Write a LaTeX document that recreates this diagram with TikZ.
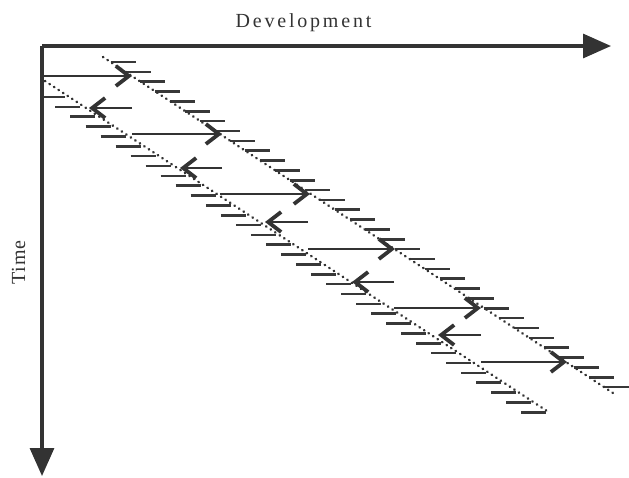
\documentclass[tikz,border=0pt]{standalone}
\usepackage{fontspec}
\setmainfont{Liberation Serif}
\usetikzlibrary{arrows.meta}
\definecolor{ink}{gray}{0.2}
\definecolor{tickc}{gray}{0.22}
\begin{document}
\begin{tikzpicture}[x=1pt,y=-1pt,
  axisline/.style={draw=ink, line width=3.2pt, -{Triangle[length=28pt,width=24pt]}},
  dotline/.style={draw=ink, line width=2.6pt, line cap=round, dash pattern=on 0.4pt off 5pt},
  tickline/.style={draw=tickc, line width=2.6pt},
  flow/.style={draw=ink, line width=2.8pt, -{Straight Barb[length=13pt,width=20pt,line width=3.8pt]}},
  lbl/.style={font=\fontsize{20}{24}\selectfont, text=ink, anchor=base, inner sep=0pt}]
\useasboundingbox (0,0) rectangle (629,477);

% staircase ticks on the right dotted line
\foreach \i in {0,...,33}{
  \pgfmathsetmacro{\yy}{62+9.85*\i}
  \pgfmathsetmacro{\xx}{103+1.518*(\yy-57)}
  \draw[tickline] (\xx,\yy) -- ++(25,0);
}
% staircase ticks on the left dotted line
\foreach \i in {0,...,32}{
  \pgfmathsetmacro{\yy}{97+9.85*\i}
  \pgfmathsetmacro{\xe}{41+1.526*(\yy-81)}
  \pgfmathsetmacro{\xs}{max(43,\xe-25)}
  \draw[tickline] (\xs,\yy) -- (\xe,\yy);
}

% dotted lines
\coordinate (rda) at (103,57);
\coordinate (rdb) at (613,393);
\coordinate (lda) at (45,81);
\coordinate (ldb) at (550,413);
\draw[dotline] (rda) -- (rdb);
\draw[dotline] (lda) -- (ldb);

% zigzag arrows
\coordinate (r1s) at (42,76);   \coordinate (r1e) at (132,76);
\coordinate (l1s) at (132,108); \coordinate (l1e) at (89,108);
\coordinate (r2s) at (132,134); \coordinate (r2e) at (222,134);
\coordinate (l2s) at (222,168); \coordinate (l2e) at (180,168);
\coordinate (r3s) at (220,194); \coordinate (r3e) at (310,194);
\coordinate (l3s) at (308,222); \coordinate (l3e) at (265,222);
\coordinate (r4s) at (308,249); \coordinate (r4e) at (395,249);
\coordinate (l4s) at (394,282); \coordinate (l4e) at (352,282);
\coordinate (r5s) at (394,308); \coordinate (r5e) at (481,308);
\coordinate (l5s) at (481,335); \coordinate (l5e) at (438,335);
\coordinate (r6s) at (481,362); \coordinate (r6e) at (567,362);
\foreach \k in {1,...,6}{ \draw[flow] (r\k s) -- (r\k e); }
\foreach \k in {1,...,5}{ \draw[flow] (l\k s) -- (l\k e); }

% axes
\coordinate (O) at (42,46);
\coordinate (dx) at (611,46);
\coordinate (ty) at (42,476);
\draw[axisline] (O) -- (dx);
\draw[axisline] (O) -- (ty);

\node[lbl, font=\fontsize{20}{24}\selectfont\addfontfeature{LetterSpace=14}] (dev) at (303.5,27) {Development};
\node[lbl, rotate=90, font=\fontsize{20}{24}\selectfont\addfontfeature{LetterSpace=5}] (time) at (25,262.5) {Time};
\end{tikzpicture}
\end{document}
